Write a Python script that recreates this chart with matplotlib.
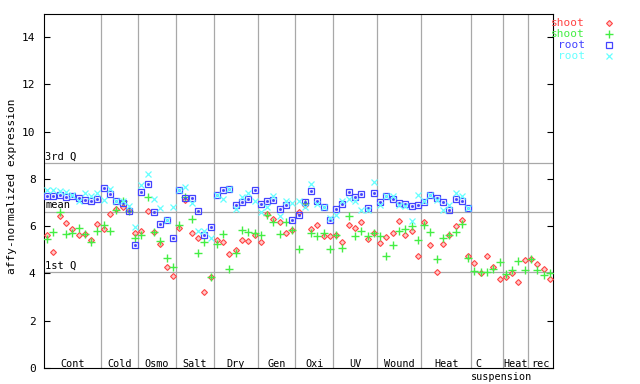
import matplotlib
matplotlib.use('Agg')
import matplotlib.pyplot as plt
import numpy as np
from matplotlib.lines import Line2D

# Grupos de condicoes e numero de amostras em cada um
grupos = ['Cont', 'Cold', 'Osmo', 'Salt', 'Dry', 'Gen', 'Oxi', 'UV', 'Wound', 'Heat', 'C', 'Heat', 'rec']
tamanhos = [9, 6, 6, 6, 7, 6, 6, 7, 7, 8, 5, 4, 4]

# shoot (losango vermelho)
shoot_red = [5.64, 4.89, 6.44, 6.13, 5.89, 5.62, 5.67, 5.43, 6.10,
             5.90, 6.51, 6.73, 6.81, 6.70, 5.71,
             5.81, 6.66, 5.77, 5.24, 4.27, 3.90,
             5.92, 7.12, 5.71, 5.50, 3.21, 3.84,
             5.43, 5.34, 4.82, 5.00, 5.43, 5.38, 5.64,
             5.33, 6.53, 6.32, 6.18, 5.71, 5.85,
             6.60, 6.88, 5.89, 6.06, 5.60, 5.60,
             5.64, 5.33, 6.06, 5.92, 6.16, 5.47, 5.71,
             5.29, 5.54, 5.71, 6.20, 5.64, 5.78, 4.75,
             6.16, 5.22, 4.06, 5.26, 5.64, 6.02, 6.27, 4.72,
             4.44, 4.04, 4.74, 4.26, 3.75,
             3.84, 4.04, 3.66, 4.57,
             4.60, 4.39, 4.18, 3.75]

# shoot (cruz verde)
shoot_green = [5.46, 5.77, 6.61, 5.67, 5.71, 5.93, 5.67, 5.33, 5.81,
               6.06, 5.81, 6.68, 7.08, 6.63, 5.50,
               5.64, 7.23, 5.74, 5.36, 4.65, 4.27,
               6.06, 7.22, 6.30, 4.86, 5.33, 3.84,
               5.24, 5.67, 4.20, 4.86, 5.85, 5.77, 5.71,
               5.62, 6.49, 6.18, 5.67, 6.18, 5.85,
               5.03, 7.00, 5.71, 5.57, 5.71, 5.03,
               5.62, 5.07, 6.44, 5.57, 5.81, 5.57, 5.71,
               5.60, 4.75, 5.22, 5.78, 5.88, 6.02, 5.40,
               6.06, 5.77, 4.61, 5.50, 5.64, 5.77, 6.10, 4.65,
               4.10, 4.08, 4.05, 4.18, 4.47,
               3.98, 4.15, 4.53, 4.15,
               4.60, 4.15, 3.94, 4.01]

# root (quadrado azul) - sem valores para as ultimas 13 amostras
root_blue = [7.29, 7.29, 7.33, 7.23, 7.26, 7.18, 7.09, 7.06, 7.15,
             7.63, 7.38, 7.05, 6.98, 6.66, 5.20,
             7.45, 7.79, 6.60, 6.10, 6.25, 5.50,
             7.52, 7.19, 7.19, 6.64, 5.61, 5.96,
             7.33, 7.55, 7.59, 6.91, 7.02, 7.15, 7.55,
             6.95, 7.08, 7.12, 6.73, 6.91, 6.27,
             6.49, 7.02, 7.49, 7.08, 6.80, 6.27,
             6.73, 6.95, 7.45, 7.23, 7.36, 6.77, 7.40,
             7.02, 7.29, 7.15, 6.98, 6.95, 6.87, 6.91,
             7.01, 7.33, 7.19, 7.02, 6.70, 7.16, 7.05, 6.77]

# root (x ciano)
root_cyan = [7.55, 7.55, 7.47, 7.45, 7.30, 7.05, 7.40, 7.29, 7.40,
             7.09, 7.57, 7.05, 7.05, 6.87, 5.96,
             7.76, 8.22, 7.15, 6.77, 6.27, 6.81,
             7.52, 7.66, 6.98, 5.78, 5.78, 5.50,
             7.33, 7.15, 7.59, 6.73, 7.22, 7.40, 7.08,
             6.61, 6.81, 7.26, 6.44, 7.08, 6.98,
             7.05, 6.81, 7.80, 6.94, 6.81, 6.35,
             6.49, 7.05, 7.15, 7.05, 6.67, 6.70, 7.87,
             6.88, 7.29, 7.26, 6.91, 6.84, 6.23, 7.33,
             7.05, 7.30, 7.12, 6.70, 6.91, 7.40, 7.26, 6.77]

# Quartis e media
q1, media, q3 = 4.07, 6.61, 8.68

vermelho = '#ff4444'
verde = '#44ee44'
azul = '#4444ff'
ciano = '#66ffff'
cinza = '#a8a8a8'

plt.rcParams['font.family'] = 'DejaVu Sans Mono'
plt.rcParams['font.size'] = 8

fig = plt.figure(figsize=(6.4, 3.84), dpi=100)
ax = fig.add_axes([44/640, 16/384, 509/640, 354.5/384])

n = len(shoot_red)
x = np.arange(n)
xr = np.arange(len(root_blue))

# Linhas de quartis e media
for valor, nome in [(q3, '3rd Q'), (media, 'mean'), (q1, '1st Q')]:
    ax.axhline(valor, color=cinza, lw=0.9, zorder=1)
    ax.annotate(nome, (0.002, valor), xycoords=('axes fraction', 'data'),
                xytext=(0, 1), textcoords='offset points', va='bottom', ha='left', fontsize=7.5)

# Separadores dos grupos
limites = np.cumsum(tamanhos)
inicios = limites - np.array(tamanhos)
for b in limites[:-1]:
    ax.axvline(b - 0.5, color=cinza, lw=0.9, zorder=1)

for nome, ini, t in zip(grupos, inicios, tamanhos):
    centro = ini + (t - 1) / 2
    if nome == 'C':
        ax.text(centro - 1.3, 0.012, nome, transform=ax.get_xaxis_transform(), ha='center', va='center', fontsize=7.3)
        ax.text(centro + 2.3, -0.026, 'suspension', transform=ax.get_xaxis_transform(),
                ha='center', va='center', clip_on=False, fontsize=7.3)
    else:
        ax.text(centro, 0.012, nome, transform=ax.get_xaxis_transform(), ha='center', va='center', fontsize=7.3)

# Pontos
ax.plot(x, shoot_red, linestyle='', marker='D', ms=3, mfc='#ffc8c8', mec=vermelho, mew=0.8, zorder=3)
ax.plot(x, shoot_green, linestyle='', marker='+', ms=5.5, color=verde, mew=1.0, zorder=3)
ax.plot(xr, root_blue, linestyle='', marker='s', ms=4.5, mfc='none', mec=azul, mew=0.9, zorder=3)
ax.plot(xr, root_blue, linestyle='', marker='s', ms=1.0, color=azul, zorder=3)
ax.plot(xr, root_cyan, linestyle='', marker='x', ms=4.5, color=ciano, mew=0.9, zorder=3)

ax.set_xlim(-0.5, n - 0.5)
ax.set_ylim(0, 15)
ax.set_yticks(range(0, 15, 2))
ax.set_xticks([])
ax.tick_params(axis='y', direction='in', length=4.5, width=0.8, right=True, pad=6)
for s in ax.spines.values():
    s.set_linewidth(0.8)

fig.text(12/640, 1 - 186/384, 'affy-normalized expression', rotation=90, ha='center', va='center')

# Legenda manual (texto a esquerda, marcador a direita)
legenda = [('shoot', vermelho, dict(marker='D', ms=3, mfc='#ffc8c8', mec=vermelho, mew=0.8)),
           ('shoot', verde, dict(marker='+', ms=5.5, color=verde, mew=1.0)),
           ('root', azul, dict(marker='s', ms=4.5, mfc='none', mec=azul, mew=0.9)),
           ('root', ciano, dict(marker='x', ms=4.5, color=ciano, mew=0.9))]
for k, (txt, cor, estilo) in enumerate(legenda):
    yy = 1 - (23 + 11 * k) / 384
    fig.text(585/640, yy, txt, color=cor, ha='right', va='center')
    fig.add_artist(Line2D([609/640], [yy], transform=fig.transFigure, linestyle='', **estilo))

fig.savefig('out.png', dpi=100)
